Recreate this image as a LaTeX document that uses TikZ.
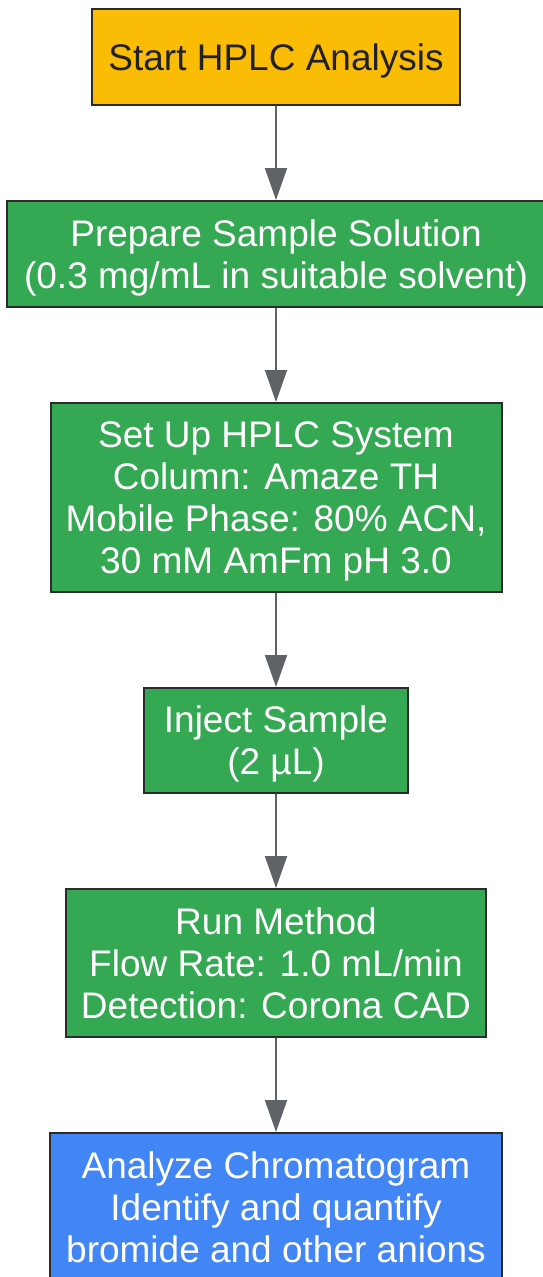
\documentclass[tikz,border=0pt]{standalone}
\usepackage{fontspec}
\setmainfont{Liberation Sans}
\usetikzlibrary{arrows.meta}
\definecolor{cOrange}{HTML}{FBBC05}
\definecolor{cGreen}{HTML}{34A853}
\definecolor{cBlue}{HTML}{4285F4}
\definecolor{cBorder}{HTML}{2B2B2B}
\definecolor{cArrow}{HTML}{5F6368}
\definecolor{cDark}{HTML}{202124}
\begin{document}
\begin{tikzpicture}[x=1pt,y=-1pt,
  box/.style={draw=cBorder,line width=2pt,rectangle,inner sep=0pt,align=center,
    text depth=-10pt,font=\fontsize{37}{42}\selectfont},
  startbox/.style={box,fill=cOrange,text=cDark},
  stepbox/.style={box,fill=cGreen,text=white},
  endbox/.style={box,fill=cBlue,text=white},
  flow/.style={draw=cArrow,line width=2pt,-{Triangle[length=32pt,width=22pt]}}
]
\useasboundingbox (0,0) rectangle (543,1277);
\clip (0,0) rectangle (543,1277);
\fill[white] (0,0) rectangle (543,1277);
\node[startbox,minimum width=368pt,minimum height=96pt] (b1) at (276,57) {Start HPLC Analysis};
\node[stepbox,minimum width=538pt,minimum height=106pt] (b2) at (276,254) {Prepare Sample Solution\\(0.3 mg/mL in suitable solvent)};
\node[stepbox,minimum width=451pt,minimum height=189pt] (b3) at (276,497.5) {Set Up HPLC System\\Column: Amaze TH\\Mobile Phase: 80\% ACN,\\30 mM AmFm pH 3.0};
\node[stepbox,minimum width=264pt,minimum height=105pt] (b4) at (276,740.5) {Inject Sample\\(2 µL)};
\node[stepbox,minimum width=420pt,minimum height=148pt] (b5) at (276,963) {Run Method\\Flow Rate: 1.0 mL/min\\Detection: Corona CAD};
\node[endbox,minimum width=452pt,minimum height=148pt] (b6) at (276,1207) {Analyze Chromatogram\\Identify and quantify\\bromide and other anions};
\draw[flow] (b1) -- (b2);
\draw[flow] (b2) -- (b3);
\draw[flow] (b3) -- (b4);
\draw[flow] (b4) -- (b5);
\draw[flow] (b5) -- (b6);
\end{tikzpicture}
\end{document}
